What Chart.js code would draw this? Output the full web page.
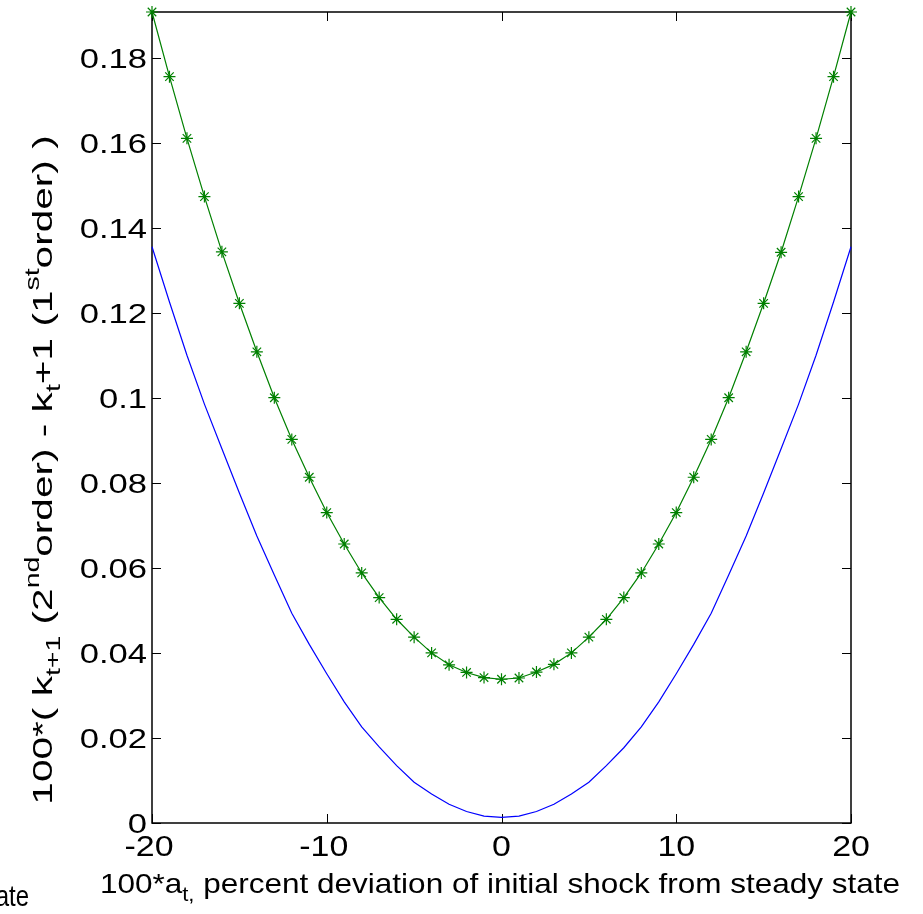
<!DOCTYPE html>
<html>
<head>
<meta charset="utf-8">
<script src="https://cdn.jsdelivr.net/npm/chart.js@4"></script>
<style>
html, body { margin: 0; padding: 0; background: #fff; }
</style>
</head>
<body>
<canvas id="gapChart" width="923" height="914"></canvas>
<script>
// shock grid (100*a_t) and the two curves
const shockX = [-20, -19, -18, -17, -16, -15, -14, -13, -12, -11, -10, -9, -8, -7, -6, -5, -4, -3, -2, -1, 0,
                1, 2, 3, 4, 5, 6, 7, 8, 9, 10, 11, 12, 13, 14, 15, 16, 17, 18, 19, 20];
const blueGap = [0.1355, 0.1225, 0.1100, 0.0985, 0.0880, 0.0776, 0.0675, 0.0583, 0.0493, 0.0420, 0.0351,
                 0.0285, 0.0226, 0.0179, 0.0135, 0.0096, 0.0068, 0.0044, 0.0027, 0.0016, 0.0013,
                 0.0016, 0.0027, 0.0044, 0.0068, 0.0096, 0.0135, 0.0177, 0.0226, 0.0285, 0.0351,
                 0.0420, 0.0493, 0.0583, 0.0675, 0.0776, 0.0880, 0.0985, 0.1100, 0.1225, 0.1355];
const greenGap = [0.1907, 0.1755, 0.1610, 0.1473, 0.1343, 0.1222, 0.1108, 0.1000, 0.0902, 0.0813, 0.0730,
                  0.0656, 0.0588, 0.0530, 0.0479, 0.0437, 0.0400, 0.0372, 0.0354, 0.0342, 0.0338,
                  0.0341, 0.0355, 0.0373, 0.0400, 0.0437, 0.0479, 0.0530, 0.0588, 0.0656, 0.0730,
                  0.0813, 0.0902, 0.1000, 0.1108, 0.1222, 0.1342, 0.1473, 0.1610, 0.1755, 0.1907];
const xTicks = [-20, -10, 0, 10, 20];
const yTicks = [0, 0.02, 0.04, 0.06, 0.08, 0.1, 0.12, 0.14, 0.16, 0.18];
const yMax = 0.1907;

const FONT = '"Liberation Sans", Arial, sans-serif';

// text in the original figure is stretched, so draw it with a horizontal scale
function drawStretched(ctx, text, x, y, size, sx, align, baseline) {
    ctx.save();
    ctx.translate(x, y);
    ctx.scale(sx, 1);
    ctx.font = size + 'px ' + FONT;
    ctx.fillStyle = '#000';
    ctx.textAlign = align;
    ctx.textBaseline = baseline;
    ctx.fillText(text, 0, 0);
    ctx.restore();
}

function drawRich(ctx, parts, cx, cy, angle, size, sx) {
    ctx.save();
    ctx.translate(cx, cy);
    ctx.rotate(angle);
    ctx.scale(sx, 1);
    ctx.fillStyle = '#000';
    ctx.textBaseline = 'alphabetic';
    let total = 0;
    parts.forEach(p => {
        p.fs = p.k ? size * 0.7 : size;
        ctx.font = p.fs + 'px ' + FONT;
        p.w = ctx.measureText(p.t).width;
        total += p.w;
    });
    let pos = -total / 2;
    parts.forEach(p => {
        ctx.font = p.fs + 'px ' + FONT;
        const dy = p.k === 'sub' ? size * 0.3 : p.k === 'sup' ? -size * 0.45 : 0;
        ctx.fillText(p.t, pos, dy);
        pos += p.w;
    });
    ctx.restore();
}

const axesBox = {
    id: 'axesBox',
    beforeDatasetsDraw(chart) {
        const { ctx, chartArea: a, scales: { x, y } } = chart;
        ctx.save();
        ctx.strokeStyle = '#000';
        ctx.lineWidth = 1.5;
        ctx.strokeRect(a.left, a.top, a.right - a.left, a.bottom - a.top);
        ctx.beginPath();
        xTicks.forEach(v => {
            const px = Math.round(x.getPixelForValue(v)) + 0.5;
            ctx.moveTo(px, a.bottom); ctx.lineTo(px, a.bottom - 9);
            ctx.moveTo(px, a.top); ctx.lineTo(px, a.top + 9);
        });
        yTicks.forEach(v => {
            const py = Math.round(y.getPixelForValue(v)) + 0.5;
            ctx.moveTo(a.left, py); ctx.lineTo(a.left + 9, py);
            ctx.moveTo(a.right, py); ctx.lineTo(a.right - 9, py);
        });
        ctx.lineWidth = 1;
        ctx.stroke();
        ctx.restore();
    },
    afterDraw(chart) {
        const { ctx, chartArea: a, scales: { x, y } } = chart;
        xTicks.forEach(v => {
            const shift = v < 0 ? -3 : 0;
            drawStretched(ctx, String(v), x.getPixelForValue(v) + shift, a.bottom + 25, 29, 1.17, 'center', 'middle');
        });
        yTicks.forEach(v => {
            drawStretched(ctx, String(+v.toFixed(2)), a.left - 5, y.getPixelForValue(v) + 3, 27, 1.28, 'right', 'middle');
        });
        drawRich(ctx, [
            { t: '100*( k' }, { t: 't+1', k: 'sub' }, { t: ' (2' }, { t: 'nd', k: 'sup' },
            { t: 'order) - k' }, { t: 't', k: 'sub' }, { t: '+1 (1' }, { t: 'st', k: 'sup' },
            { t: 'order) )' }
        ], 52, 470, -Math.PI / 2, 28, 1.45);
        drawRich(ctx, [
            { t: '100*a' }, { t: 't,', k: 'sub' },
            { t: ' percent deviation of initial shock from steady state' }
        ], 500, 893, 0, 28, 1.125);
        drawStretched(ctx, 'ate', 29, 906, 30, 0.8, 'right', 'alphabetic');
    }
};

const ctx = document.getElementById('gapChart').getContext('2d');
const gapChart = new Chart(ctx, {
    type: 'line',
    data: {
        datasets: [{
            data: shockX.map((v, i) => ({ x: v, y: blueGap[i] })),
            borderColor: '#0000ff',
            borderWidth: 1.2,
            pointRadius: 0,
            fill: false,
            clip: false
        }, {
            data: shockX.map((v, i) => ({ x: v, y: greenGap[i] })),
            borderColor: '#008000',
            borderWidth: 1.2,
            pointStyle: 'star',
            pointRadius: 6,
            pointBorderColor: '#008000',
            pointBorderWidth: 1.2,
            pointBackgroundColor: '#008000',
            fill: false,
            clip: false
        }]
    },
    options: {
        responsive: false,
        animation: false,
        layout: { padding: { left: 0, right: 72, top: 12, bottom: 0 } },
        plugins: {
            legend: { display: false },
            tooltip: { enabled: false }
        },
        scales: {
            x: {
                type: 'linear',
                min: -20,
                max: 20,
                grid: { display: false, drawTicks: false },
                border: { display: false },
                afterBuildTicks: s => { s.ticks = xTicks.map(v => ({ value: v })); },
                afterFit: s => { s.height = 91; },
                ticks: { display: false }
            },
            y: {
                type: 'linear',
                min: 0,
                max: yMax,
                grid: { display: false, drawTicks: false },
                border: { display: false },
                afterBuildTicks: s => { s.ticks = yTicks.map(v => ({ value: v })); },
                afterFit: s => { s.width = 152; },
                ticks: { display: false }
            }
        }
    },
    plugins: [axesBox]
});
</script>
</body>
</html>
